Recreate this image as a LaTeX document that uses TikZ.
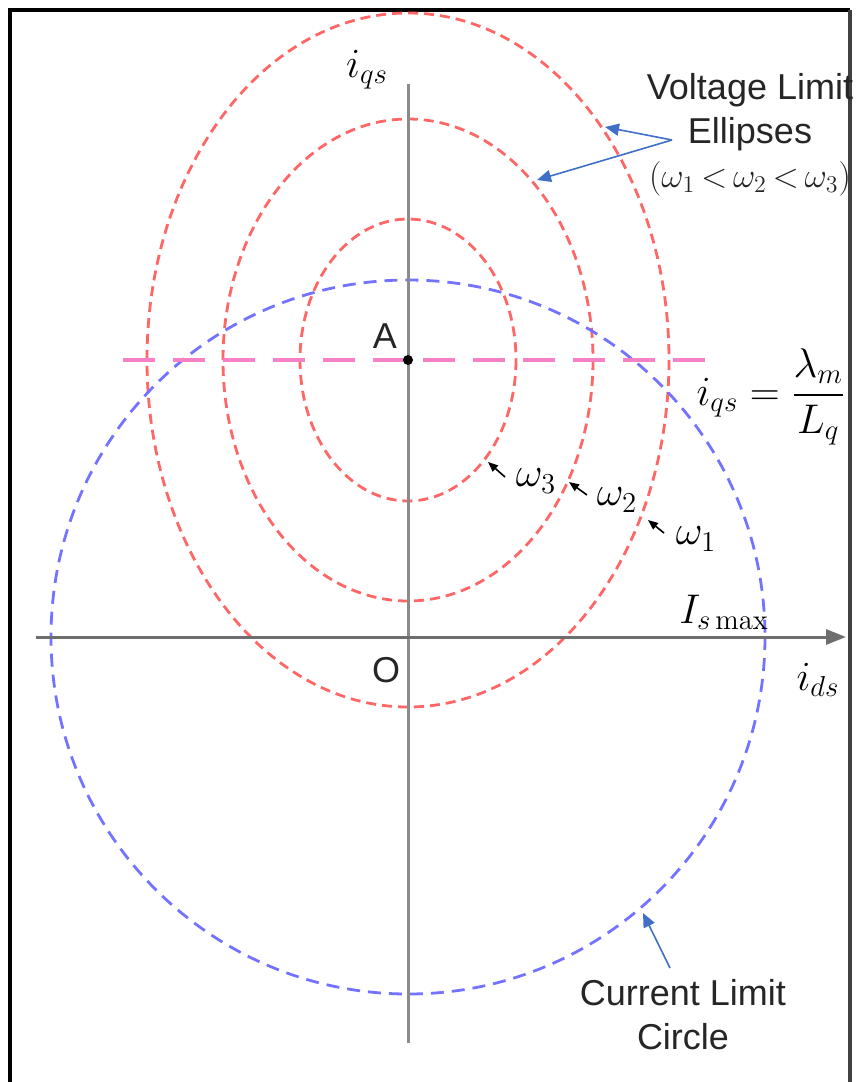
\documentclass[tikz,border=0pt]{standalone}
\usepackage{amsmath}
\usepackage[no-math]{fontspec}
\setmainfont{Liberation Sans}
\usetikzlibrary{arrows.meta, positioning, calc}
\definecolor{NoteBlue}{HTML}{3F6FC6}
\definecolor{AxisGray}{HTML}{6E6E6E}

\begin{document}
\begin{tikzpicture}[
    x=0.5pt, y=-0.5pt,
    every node/.style={font=\fontsize{18}{22}\selectfont, text=black!85, inner sep=0pt},
    sym/.style={font=\fontsize{20}{24}\selectfont, text=black},
    axis/.style={draw=AxisGray, line width=1.5pt},
    voltage/.style={draw=red!60, dash pattern=on 5pt off 3pt, line width=1.4pt},
    current/.style={draw=blue!55, dash pattern=on 6.5pt off 4pt, line width=1.4pt},
    flux/.style={draw=magenta!50, dash pattern=on 16pt off 9pt, line width=1.8pt},
    note/.style={-{Triangle[length=7pt, width=6pt]}, draw=NoteBlue, line width=0.8pt},
    speedarrow/.style={-{Triangle[length=5pt, width=4pt]}, draw=black, line width=0.8pt}
  ]
    \useasboundingbox (0,0) rectangle (860,1082);
    \draw[line width=2.2pt, black] (10,1082) -- (10,10) -- (850,10);
    \draw[line width=2pt, black!75] (850,10) -- (850,1082);

    \coordinate (A) at (408,360);
    \coordinate (O) at (408,637);
    \coordinate (qtop) at (408,84);
    \coordinate (qbot) at (408,1043);
    \coordinate (dleft) at (36,637);
    \coordinate (dright) at (846,637);
    \coordinate (mleft) at (123,360);
    \coordinate (mright) at (709,360);

    \draw[voltage] (A) ellipse [x radius=108, y radius=141];
    \draw[voltage] (A) ellipse [x radius=185, y radius=241];
    \draw[voltage] (A) ellipse [x radius=261, y radius=347];
    \draw[current] (O) circle [radius=357];
    \draw[flux] (mleft) -- (mright);

    \draw[axis, draw=AxisGray!80] (qbot) -- (qtop);
    \draw[axis, -{Triangle[length=10pt, width=7.5pt]}] (dleft) -- (dright);
    \fill (A) circle [radius=5];

    \node (Alabel) at (385,336) {A};
    \node (Olabel) at (386,670) {O};
    \node[sym] (iqs) at (367,70) {$i_{qs}$};
    \node[sym] (ids) at (818,680) {$i_{ds}$};
    \node[sym] (ismax) at (724,612) {$I_{s\max}$};
    \node[sym] (iqseq) at (771,397) {$i_{qs}=\dfrac{\lambda_m}{L_q}$};

    \node[sym] (w3) at (536,481) {$\omega_3$};
    \node[sym] (w2) at (617,500) {$\omega_2$};
    \node[sym] (w1) at (696,539) {$\omega_1$};
    \coordinate (w3tail) at (505,477);
    \coordinate (w3tip) at (488,462);
    \coordinate (w2tail) at (587,495);
    \coordinate (w2tip) at (569,482);
    \coordinate (w1tail) at (664,533);
    \coordinate (w1tip) at (648,520);
    \draw[speedarrow] (w3tail) -- (w3tip);
    \draw[speedarrow] (w2tail) -- (w2tip);
    \draw[speedarrow] (w1tail) -- (w1tip);

    \node[align=center] (voltlabel) at (750,135) {Voltage Limit\\Ellipses\\$(\omega_1\mkern3mu{<}\mkern3mu\omega_2\mkern3mu{<}\mkern3mu\omega_3)$};
    \coordinate (volttail) at (672,140);
    \coordinate (outertip) at (605,127);
    \coordinate (middletip) at (537,180);
    \draw[note] (volttail) -- (outertip);
    \draw[note] (volttail) -- (middletip);

    \node[align=center] (currlabel) at (683,1015) {Current Limit\\Circle};
    \coordinate (currtail) at (670,968);
    \coordinate (currtip) at (643,913);
    \draw[note] (currtail) -- (currtip);
  \end{tikzpicture}
\end{document}
